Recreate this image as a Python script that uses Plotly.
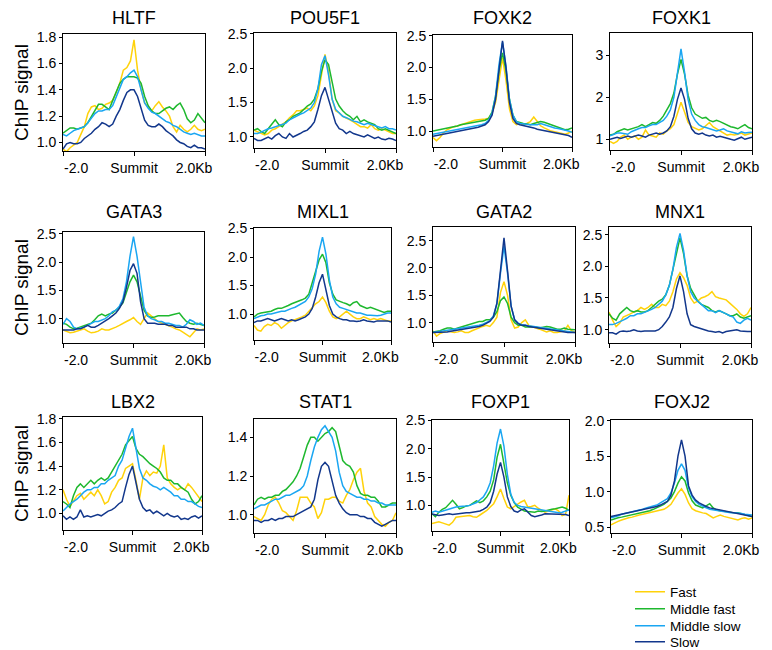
import plotly.graph_objects as go

# ---------------- data ----------------
POSITIONS_KB = [-2.0, -1.9, -1.8, -1.7, -1.6, -1.5, -1.4, -1.3, -1.2, -1.1, -1.0,
                -0.9, -0.8, -0.7, -0.6, -0.5, -0.4, -0.3, -0.2, -0.1, 0.0,
                0.1, 0.2, 0.3, 0.4, 0.5, 0.6, 0.7, 0.8, 0.9, 1.0,
                1.1, 1.2, 1.3, 1.4, 1.5, 1.6, 1.7, 1.8, 1.9, 2.0]
XTICK_TEXT = ["-2.0", "Summit", "2.0Kb"]
SERIES_NAMES = ["Fast", "Middle fast", "Middle slow", "Slow"]

HLTF_fast = [0.95,0.93,0.96,0.98,1.00,1.06,1.12,1.22,1.27,1.28,1.25,1.26,1.29,1.30,1.32,1.38,1.45,1.55,1.57,1.62,1.78,1.55,1.40,1.30,1.27,1.24,1.28,1.31,1.27,1.24,1.20,1.12,1.08,1.13,1.10,1.08,1.10,1.13,1.10,1.09,1.10]
HLTF_midfast = [1.07,1.09,1.11,1.11,1.10,1.11,1.12,1.15,1.20,1.25,1.29,1.29,1.27,1.25,1.32,1.38,1.45,1.48,1.50,1.50,1.50,1.49,1.45,1.35,1.28,1.24,1.22,1.22,1.24,1.26,1.27,1.25,1.28,1.30,1.25,1.18,1.15,1.17,1.22,1.18,1.15]
HLTF_midslow = [1.06,1.05,1.07,1.09,1.10,1.11,1.12,1.15,1.19,1.22,1.24,1.24,1.25,1.25,1.28,1.35,1.42,1.48,1.50,1.53,1.55,1.50,1.40,1.30,1.26,1.23,1.22,1.20,1.18,1.16,1.15,1.13,1.12,1.10,1.08,1.07,1.06,1.07,1.06,1.05,1.05]
HLTF_slow = [0.95,0.99,1.00,0.99,0.99,1.00,1.03,1.05,1.07,1.10,1.12,1.15,1.14,1.12,1.14,1.20,1.25,1.32,1.38,1.40,1.40,1.35,1.25,1.17,1.13,1.12,1.12,1.14,1.12,1.09,1.07,1.05,1.02,1.00,0.99,0.97,0.96,0.98,0.96,0.96,0.95]

POU5F1_fast = [1.10,1.08,1.05,1.03,1.05,1.10,1.12,1.15,1.18,1.22,1.28,1.32,1.38,1.38,1.40,1.42,1.38,1.45,1.60,1.90,2.20,1.95,1.55,1.38,1.35,1.30,1.28,1.25,1.22,1.18,1.15,1.15,1.13,1.18,1.12,1.10,1.12,1.10,1.08,1.05,1.05]
POU5F1_midfast = [1.10,1.12,1.08,1.05,1.12,1.18,1.25,1.18,1.15,1.22,1.25,1.30,1.32,1.35,1.40,1.45,1.48,1.55,1.70,1.95,2.12,2.05,1.80,1.55,1.45,1.38,1.33,1.30,1.25,1.30,1.22,1.25,1.22,1.20,1.18,1.12,1.10,1.12,1.10,1.08,1.05]
POU5F1_midslow = [1.05,1.05,1.07,1.10,1.12,1.13,1.15,1.17,1.18,1.20,1.25,1.28,1.30,1.33,1.35,1.38,1.42,1.50,1.70,2.05,2.18,1.90,1.55,1.40,1.35,1.30,1.28,1.25,1.23,1.22,1.20,1.18,1.20,1.18,1.17,1.15,1.13,1.15,1.12,1.12,1.10]
POU5F1_slow = [0.98,0.95,0.95,0.98,1.00,0.97,1.02,1.05,1.00,0.98,1.05,1.00,1.02,1.05,1.08,1.10,1.15,1.22,1.40,1.60,1.72,1.55,1.35,1.20,1.12,1.10,1.05,1.08,1.05,1.03,1.02,1.00,1.03,1.00,0.98,1.00,0.97,0.96,0.98,0.97,0.95]

FOXK2_fast = [0.90,0.85,0.90,0.97,1.02,1.05,1.07,1.08,1.10,1.12,1.13,1.15,1.17,1.18,1.18,1.19,1.20,1.28,1.45,1.80,2.15,1.80,1.35,1.15,1.10,1.12,1.10,1.12,1.15,1.22,1.15,1.08,1.05,1.02,1.00,0.99,0.98,0.96,0.95,0.97,1.00]
FOXK2_midfast = [1.00,1.01,1.02,1.03,1.05,1.05,1.07,1.08,1.10,1.11,1.12,1.13,1.14,1.15,1.15,1.17,1.20,1.30,1.55,1.95,2.23,1.95,1.50,1.25,1.15,1.13,1.12,1.11,1.10,1.12,1.13,1.15,1.14,1.12,1.10,1.07,1.05,1.03,1.02,1.03,1.05]
FOXK2_midslow = [0.95,0.96,0.97,0.98,0.99,1.00,1.01,1.02,1.03,1.04,1.05,1.06,1.07,1.09,1.10,1.12,1.17,1.28,1.55,2.05,2.40,2.02,1.50,1.25,1.15,1.12,1.11,1.10,1.10,1.10,1.10,1.12,1.10,1.08,1.07,1.05,1.04,1.03,1.02,1.00,0.98]
FOXK2_slow = [0.92,0.93,0.95,0.96,0.97,0.97,0.98,0.99,1.00,1.01,1.02,1.03,1.05,1.06,1.08,1.10,1.15,1.25,1.50,2.00,2.42,2.00,1.45,1.20,1.12,1.10,1.09,1.08,1.06,1.05,1.03,1.02,1.01,1.00,0.99,0.98,0.97,0.96,0.95,0.93,0.90]

FOXK1_fast = [0.95,0.90,0.95,1.05,1.10,1.00,1.05,1.08,1.00,1.05,1.22,1.10,1.08,1.05,1.15,1.12,1.20,1.25,1.35,1.60,1.88,1.65,1.40,1.30,1.25,1.22,1.25,1.32,1.40,1.30,1.25,1.20,1.15,1.10,1.12,1.10,1.12,1.15,1.10,1.12,1.15]
FOXK1_midfast = [1.10,1.12,1.18,1.22,1.25,1.22,1.25,1.28,1.30,1.35,1.30,1.35,1.40,1.38,1.45,1.55,1.70,1.85,2.10,2.55,2.90,2.55,2.05,1.75,1.60,1.55,1.50,1.52,1.45,1.42,1.45,1.42,1.38,1.35,1.30,1.28,1.25,1.30,1.35,1.28,1.25]
FOXK1_midslow = [1.08,1.12,1.15,1.15,1.13,1.12,1.18,1.22,1.25,1.28,1.28,1.32,1.35,1.35,1.40,1.45,1.55,1.70,2.00,2.60,3.15,2.60,1.95,1.60,1.45,1.35,1.30,1.28,1.25,1.22,1.20,1.22,1.25,1.20,1.18,1.15,1.13,1.18,1.15,1.16,1.17]
FOXK1_slow = [1.00,1.02,1.05,1.02,1.05,1.08,1.05,1.08,1.10,1.08,1.05,1.10,1.12,1.15,1.12,1.15,1.20,1.30,1.55,1.95,2.22,1.95,1.50,1.25,1.15,1.12,1.15,1.10,1.08,1.10,1.05,1.07,1.05,1.02,1.00,0.98,1.02,1.05,1.00,1.02,1.05]

GATA3_fast = [0.80,0.78,0.75,0.76,0.78,0.80,0.82,0.78,0.75,0.76,0.78,0.82,0.80,0.80,0.82,0.85,0.88,0.92,0.95,0.98,1.02,0.95,0.90,1.00,1.10,1.05,1.00,0.95,0.92,0.90,0.88,0.85,0.82,0.80,0.76,0.72,0.68,0.75,0.82,0.80,0.82]
GATA3_midfast = [0.92,0.90,0.85,0.82,0.83,0.85,0.88,0.90,0.92,0.98,1.05,1.08,1.05,1.08,1.10,1.15,1.20,1.28,1.45,1.65,1.77,1.65,1.40,1.15,1.05,1.02,1.03,1.05,1.05,1.05,1.05,1.07,1.08,1.10,1.02,0.95,0.92,0.90,0.92,0.90,0.88]
GATA3_midslow = [0.90,1.00,0.95,0.85,0.82,0.83,0.85,0.88,0.92,0.95,0.95,0.97,1.00,1.05,1.12,1.15,1.22,1.35,1.65,2.10,2.45,2.10,1.60,1.20,1.05,1.00,0.98,0.95,0.95,0.92,0.92,0.90,0.88,0.88,0.85,0.90,0.98,0.95,0.90,0.92,0.88]
GATA3_slow = [0.80,0.80,0.80,0.80,0.82,0.82,0.85,0.88,0.85,0.85,0.88,0.92,0.95,1.00,1.05,1.10,1.18,1.30,1.55,1.85,1.97,1.80,1.30,1.00,0.92,0.92,0.92,0.90,0.90,0.90,0.88,0.88,0.85,0.85,0.85,0.85,0.82,0.82,0.80,0.80,0.80]

MIXL1_fast = [0.80,0.72,0.70,0.78,0.82,0.80,0.85,0.82,0.75,0.80,0.85,0.88,0.90,0.92,0.95,0.98,1.05,1.10,1.18,1.22,1.30,1.20,1.05,0.95,0.92,0.95,1.00,1.05,1.00,0.95,0.92,0.92,0.95,0.92,0.90,0.92,0.90,0.92,0.90,0.88,0.88]
MIXL1_midfast = [0.95,1.00,1.02,1.03,1.05,1.05,1.08,1.10,1.10,1.12,1.15,1.18,1.20,1.22,1.25,1.28,1.35,1.55,1.75,1.95,2.05,1.90,1.55,1.35,1.25,1.22,1.20,1.18,1.15,1.20,1.22,1.15,1.12,1.10,1.12,1.10,1.08,1.05,1.03,1.05,1.05]
MIXL1_midslow = [0.92,0.95,0.97,0.98,1.00,1.00,1.02,1.03,1.05,1.05,1.08,1.10,1.12,1.15,1.18,1.22,1.30,1.45,1.70,2.10,2.35,2.05,1.60,1.30,1.18,1.12,1.10,1.08,1.05,1.03,1.02,1.02,1.00,0.98,0.98,0.97,0.97,0.98,1.00,1.02,1.02]
MIXL1_slow = [0.85,0.88,0.88,0.90,0.92,0.90,0.88,0.90,0.92,0.90,0.88,0.90,0.88,0.90,0.92,0.95,1.00,1.10,1.30,1.55,1.70,1.45,1.15,1.00,0.95,0.92,0.90,0.90,0.88,0.88,0.87,0.88,0.90,0.88,0.87,0.86,0.88,0.88,0.87,0.88,0.86]

GATA2_fast = [0.85,0.75,0.80,0.82,0.85,0.83,0.82,0.83,0.85,0.82,0.82,0.85,0.88,0.90,0.93,0.95,0.93,1.00,1.10,1.55,1.75,1.50,1.05,0.90,0.92,1.00,1.05,0.95,0.92,0.90,0.88,0.85,0.83,0.85,0.82,0.82,0.83,0.85,0.95,0.85,0.82]
GATA2_midfast = [0.83,0.84,0.85,0.88,0.90,0.90,0.88,0.90,0.92,0.93,0.95,0.97,1.00,1.02,1.02,1.05,1.05,1.10,1.20,1.40,1.47,1.35,1.10,1.00,0.95,0.95,0.92,0.92,0.93,0.92,0.90,0.92,0.93,0.92,0.90,0.88,0.88,0.90,0.88,0.87,0.87]
GATA2_midslow = [0.82,0.83,0.84,0.85,0.85,0.86,0.87,0.88,0.89,0.90,0.91,0.92,0.93,0.95,0.97,1.00,1.03,1.12,1.35,1.90,2.40,1.90,1.30,1.05,0.99,0.96,0.95,0.94,0.93,0.92,0.91,0.90,0.89,0.88,0.87,0.86,0.85,0.84,0.83,0.83,0.82]
GATA2_slow = [0.82,0.82,0.83,0.83,0.83,0.84,0.85,0.86,0.88,0.88,0.90,0.91,0.92,0.93,0.95,0.98,1.02,1.10,1.35,1.95,2.55,1.95,1.30,1.05,0.98,0.95,0.95,0.93,0.92,0.91,0.90,0.88,0.87,0.86,0.85,0.85,0.84,0.83,0.82,0.82,0.82]

MNX1_fast = [1.28,1.15,1.05,1.10,1.20,1.22,1.25,1.28,1.30,1.35,1.32,1.35,1.40,1.35,1.35,1.40,1.38,1.45,1.60,1.80,1.90,1.82,1.70,1.50,1.42,1.45,1.50,1.52,1.55,1.60,1.52,1.50,1.48,1.47,1.42,1.37,1.32,1.25,1.21,1.25,1.35]
MNX1_midfast = [1.25,1.18,1.15,1.25,1.30,1.35,1.30,1.28,1.30,1.28,1.28,1.30,1.35,1.40,1.45,1.48,1.55,1.70,1.95,2.25,2.45,2.20,1.85,1.65,1.55,1.45,1.40,1.38,1.35,1.30,1.28,1.30,1.28,1.25,1.22,1.22,1.25,1.20,1.18,1.20,1.22]
MNX1_midslow = [1.08,1.08,1.10,1.12,1.15,1.18,1.22,1.22,1.25,1.25,1.27,1.30,1.32,1.35,1.40,1.45,1.55,1.70,1.95,2.30,2.52,2.25,1.85,1.60,1.50,1.45,1.40,1.35,1.30,1.30,1.27,1.30,1.28,1.25,1.22,1.20,1.12,1.10,1.15,1.18,1.15]
MNX1_slow = [0.95,0.95,0.93,0.97,0.98,0.97,0.98,1.00,0.98,0.97,0.98,0.98,0.97,0.98,1.00,1.05,1.12,1.20,1.35,1.65,1.85,1.60,1.25,1.08,1.05,1.03,1.02,1.00,0.98,0.97,0.96,0.97,0.95,0.97,0.98,1.00,1.00,0.98,0.97,0.97,0.97]

LBX2_fast = [1.20,1.12,1.06,1.10,1.15,1.17,1.12,1.15,1.18,1.15,1.20,1.15,1.08,1.10,1.18,1.22,1.28,1.30,1.38,1.40,1.42,1.28,1.12,1.30,1.36,1.32,1.35,1.34,1.40,1.58,1.30,1.25,1.22,1.20,1.22,1.20,1.25,1.22,1.18,1.15,1.10]
LBX2_midfast = [1.10,1.08,1.05,1.15,1.22,1.25,1.22,1.25,1.28,1.25,1.28,1.30,1.28,1.30,1.35,1.40,1.45,1.50,1.58,1.62,1.65,1.55,1.50,1.48,1.45,1.42,1.40,1.38,1.35,1.30,1.28,1.28,1.25,1.25,1.22,1.20,1.18,1.12,1.08,1.10,1.15]
LBX2_midslow = [1.02,1.05,1.08,1.10,1.12,1.15,1.18,1.20,1.20,1.22,1.22,1.25,1.25,1.28,1.30,1.32,1.40,1.45,1.55,1.65,1.72,1.55,1.38,1.30,1.28,1.25,1.23,1.22,1.20,1.22,1.20,1.18,1.15,1.15,1.12,1.12,1.10,1.10,1.08,1.06,1.05]
LBX2_slow = [0.98,0.95,0.97,0.95,0.97,1.03,0.97,0.98,0.97,0.98,0.99,0.98,1.00,1.02,1.03,1.05,1.08,1.10,1.22,1.33,1.40,1.25,1.12,1.05,1.02,1.03,1.00,1.02,1.00,0.98,1.00,0.98,0.97,0.98,0.95,0.96,0.95,0.97,0.98,0.96,0.98]

STAT1_fast = [0.99,0.98,0.97,1.00,1.05,1.08,1.09,1.06,1.02,1.01,0.99,0.97,1.02,1.09,1.09,1.09,1.06,1.04,0.98,1.01,1.08,1.08,1.09,1.09,1.07,1.06,1.10,1.13,1.18,1.22,1.24,1.12,1.06,1.04,0.99,0.97,0.95,0.94,0.96,0.97,1.01]
STAT1_midfast = [1.05,1.08,1.09,1.08,1.09,1.09,1.10,1.10,1.12,1.13,1.15,1.17,1.20,1.24,1.30,1.36,1.40,1.40,1.38,1.40,1.42,1.43,1.45,1.43,1.35,1.28,1.26,1.25,1.22,1.15,1.11,1.10,1.10,1.09,1.09,1.07,1.04,1.04,1.05,1.06,1.06]
STAT1_midslow = [1.03,1.04,1.05,1.05,1.06,1.07,1.08,1.08,1.09,1.10,1.10,1.11,1.12,1.13,1.15,1.20,1.28,1.35,1.40,1.44,1.46,1.43,1.40,1.33,1.22,1.15,1.12,1.11,1.10,1.09,1.09,1.08,1.08,1.07,1.07,1.06,1.06,1.05,1.05,1.05,1.05]
STAT1_slow = [0.97,0.97,0.96,0.97,0.97,0.98,0.97,0.98,0.98,0.99,0.99,0.99,1.00,1.01,1.02,1.03,1.04,1.08,1.18,1.25,1.27,1.25,1.18,1.10,1.06,1.03,1.01,1.00,1.00,1.00,0.99,0.99,0.98,0.98,0.96,0.95,0.94,0.95,0.96,0.97,0.97]

FOXP1_fast = [0.68,0.70,0.71,0.69,0.67,0.65,0.70,0.79,0.80,0.81,0.82,0.82,0.80,0.79,0.83,0.87,0.91,0.97,1.03,1.15,1.29,1.12,0.97,0.94,0.98,1.03,1.06,1.09,0.97,0.98,1.00,0.95,0.92,0.88,0.90,0.92,0.94,0.90,0.82,0.84,1.18]
FOXP1_midfast = [0.85,0.80,0.88,0.93,0.96,1.02,1.09,1.02,0.94,0.96,0.99,1.00,1.04,1.08,1.05,1.08,1.15,1.25,1.45,1.85,2.08,1.75,1.40,1.18,1.05,0.97,0.93,0.90,0.89,0.88,0.88,0.90,0.89,0.90,0.92,0.93,0.94,0.95,0.97,0.95,0.91]
FOXP1_midslow = [0.88,0.90,0.88,0.90,0.92,0.93,0.95,0.97,0.98,0.98,0.99,1.00,1.02,1.05,1.10,1.15,1.25,1.40,1.70,2.10,2.35,2.05,1.55,1.20,1.05,1.00,0.98,0.97,0.95,0.95,0.93,0.92,0.92,0.90,0.90,0.88,0.88,0.87,0.88,0.90,0.92]
FOXP1_slow = [0.85,0.84,0.82,0.83,0.84,0.85,0.84,0.85,0.86,0.86,0.87,0.87,0.88,0.89,0.90,0.93,0.97,1.05,1.25,1.55,1.76,1.50,1.15,0.98,0.90,0.88,0.92,0.94,0.88,0.82,0.80,0.81,0.83,0.85,0.85,0.84,0.85,0.84,0.85,0.84,0.82]

FOXJ2_fast = [0.53,0.56,0.58,0.60,0.62,0.63,0.64,0.66,0.67,0.68,0.69,0.70,0.71,0.72,0.73,0.75,0.78,0.82,0.90,0.98,1.04,0.96,0.84,0.76,0.73,0.71,0.70,0.69,0.66,0.63,0.65,0.67,0.65,0.64,0.62,0.61,0.60,0.62,0.63,0.61,0.63]
FOXJ2_midfast = [0.60,0.62,0.63,0.64,0.65,0.66,0.67,0.68,0.70,0.71,0.72,0.73,0.75,0.77,0.79,0.82,0.86,0.91,1.00,1.12,1.21,1.15,0.98,0.87,0.81,0.79,0.77,0.80,0.83,0.77,0.74,0.73,0.72,0.71,0.71,0.70,0.70,0.69,0.68,0.67,0.65]
FOXJ2_midslow = [0.63,0.64,0.66,0.68,0.69,0.70,0.71,0.72,0.74,0.75,0.77,0.78,0.79,0.81,0.84,0.87,0.90,0.98,1.12,1.30,1.39,1.30,1.05,0.93,0.86,0.82,0.79,0.77,0.75,0.74,0.73,0.72,0.72,0.71,0.70,0.70,0.70,0.69,0.68,0.68,0.67]
FOXJ2_slow = [0.65,0.66,0.67,0.68,0.69,0.70,0.71,0.72,0.73,0.74,0.76,0.77,0.78,0.79,0.81,0.83,0.86,0.95,1.15,1.50,1.73,1.50,1.08,0.95,0.88,0.84,0.81,0.79,0.77,0.76,0.75,0.75,0.74,0.73,0.72,0.71,0.70,0.69,0.68,0.66,0.65]

# ---------------- styling / layout ----------------
COLORS = ["#FFD20A", "#1EB82E", "#1AA6F2", "#12378C"]
FONT = "Liberation Sans, Arial, Helvetica, sans-serif"
W, H = 772, 650

# name, series, panel box in px (x0, x1, ytop, ybottom), y range, y ticks, tick format
PANELS = [
    ("HLTF", [HLTF_fast, HLTF_midfast, HLTF_midslow, HLTF_slow], (63, 205, 34, 151), (0.935, 1.825), [1.0, 1.2, 1.4, 1.6, 1.8], ".1f"),
    ("POU5F1", [POU5F1_fast, POU5F1_midfast, POU5F1_midslow, POU5F1_slow], (254, 396, 33, 148), (0.84, 2.51), [1.0, 1.5, 2.0, 2.5], ".1f"),
    ("FOXK2", [FOXK2_fast, FOXK2_midfast, FOXK2_midslow, FOXK2_slow], (433, 572, 35, 147), (0.75, 2.51), [1.0, 1.5, 2.0, 2.5], ".1f"),
    ("FOXK1", [FOXK1_fast, FOXK1_midfast, FOXK1_midslow, FOXK1_slow], (610, 752, 33, 150), (0.745, 3.53), [1, 2, 3], ".0f"),
    ("GATA3", [GATA3_fast, GATA3_midfast, GATA3_midslow, GATA3_slow], (63, 204, 232, 343), (0.57, 2.53), [1.0, 1.5, 2.0, 2.5], ".1f"),
    ("MIXL1", [MIXL1_fast, MIXL1_midfast, MIXL1_midslow, MIXL1_slow], (254, 391, 228, 340), (0.545, 2.51), [1.0, 1.5, 2.0, 2.5], ".1f"),
    ("GATA2", [GATA2_fast, GATA2_midfast, GATA2_midslow, GATA2_slow], (433, 575, 227, 342), (0.645, 2.75), [1.0, 1.5, 2.0, 2.5], ".1f"),
    ("MNX1", [MNX1_fast, MNX1_midfast, MNX1_midslow, MNX1_slow], (609, 751, 227, 343), (0.79, 2.62), [1.0, 1.5, 2.0, 2.5], ".1f"),
    ("LBX2", [LBX2_fast, LBX2_midfast, LBX2_midslow, LBX2_slow], (63, 202, 417, 530), (0.86, 1.815), [1.0, 1.2, 1.4, 1.6, 1.8], ".1f"),
    ("STAT1", [STAT1_fast, STAT1_midfast, STAT1_midslow, STAT1_slow], (254, 396, 419, 533), (0.905, 1.495), [1.0, 1.2, 1.4], ".1f"),
    ("FOXP1", [FOXP1_fast, FOXP1_midfast, FOXP1_midslow, FOXP1_slow], (432, 569, 420, 531), (0.547, 2.51), [1.0, 1.5, 2.0, 2.5], ".1f"),
    ("FOXJ2", [FOXJ2_fast, FOXJ2_midfast, FOXJ2_midslow, FOXJ2_slow], (611, 752, 420, 533), (0.416, 2.01), [0.5, 1.0, 1.5, 2.0], ".1f"),
]
TITLE_CENTER_PX = {0: 18, 1: 212, 2: 402}
LEGEND_CENTER_PX = [592, 609, 626, 642]
LEGEND_IDS = ["legend", "legend2", "legend3", "legend4"]

fig = go.Figure()
layout = dict(
    template="none",
    width=W, height=H,
    margin=dict(l=0, r=0, t=0, b=0, autoexpand=False),
    paper_bgcolor="white", plot_bgcolor="white",
    font=dict(family=FONT, size=14, color="black"),
    showlegend=True,
)
for j, lid in enumerate(LEGEND_IDS):
    layout[lid] = dict(
        x=630 / W, y=1 - LEGEND_CENTER_PX[j] / H, xanchor="left", yanchor="middle",
        font=dict(family=FONT, size=13.5, color="black"),
        bgcolor="rgba(0,0,0,0)", borderwidth=0, itemwidth=30,
    )
annotations = []

for i, (name, series, box, yr, yticks, yfmt) in enumerate(PANELS):
    k = "" if i == 0 else str(i + 1)
    x0, x1, yt, yb = box
    for j, vals in enumerate(series):
        fig.add_trace(go.Scatter(
            x=POSITIONS_KB, y=vals, mode="lines",
            name=SERIES_NAMES[j], legendgroup=SERIES_NAMES[j],
            legend=LEGEND_IDS[j],
            showlegend=(i == 0),
            line=dict(color=COLORS[j], width=1.5),
            xaxis="x" + k, yaxis="y" + k,
        ))
    layout["xaxis" + k] = dict(
        domain=[x0 / W, x1 / W], anchor="y" + k, automargin=False,
        range=[-2.0, 2.0], showgrid=False, zeroline=False,
        showline=True, linecolor="black", linewidth=1, mirror=True,
        tickmode="array", tickvals=[-1.63, 0.001, 1.69], ticktext=XTICK_TEXT,
        ticks="", ticklabelstandoff=4,
        tickfont=dict(family=FONT, size=14, color="black"),
        minor=dict(tickmode="array", tickvals=[-2.0, 0.0, 2.0], ticks="outside",
                   ticklen=4, tickcolor="black", tickwidth=1, showgrid=False),
    )
    ya = dict(
        domain=[1 - yb / H, 1 - yt / H], anchor="x" + k, automargin=False,
        range=list(yr), showgrid=False, zeroline=False,
        showline=True, linecolor="black", linewidth=1, mirror=True,
        tickmode="array", tickvals=yticks, tickformat=yfmt,
        ticks="outside", ticklen=3, tickcolor="black",
        tickfont=dict(family=FONT, size=14, color="black"),
    )
    if i % 4 == 0:
        ya["title"] = dict(text="ChIP signal", font=dict(family=FONT, size=19, color="black"), standoff=3)
    layout["yaxis" + k] = ya
    annotations.append(dict(
        text=name, xref="paper", yref="paper",
        x=(x0 + x1) / 2 / W, y=1 - TITLE_CENTER_PX[i // 4] / H,
        xanchor="center", yanchor="middle", showarrow=False,
        font=dict(family=FONT, size=18, color="black"),
    ))

layout["annotations"] = annotations
fig.update_layout(**layout)

fig.write_html("out.html", config={"displayModeBar": False},
               post_script="document.body.style.margin='0';")
